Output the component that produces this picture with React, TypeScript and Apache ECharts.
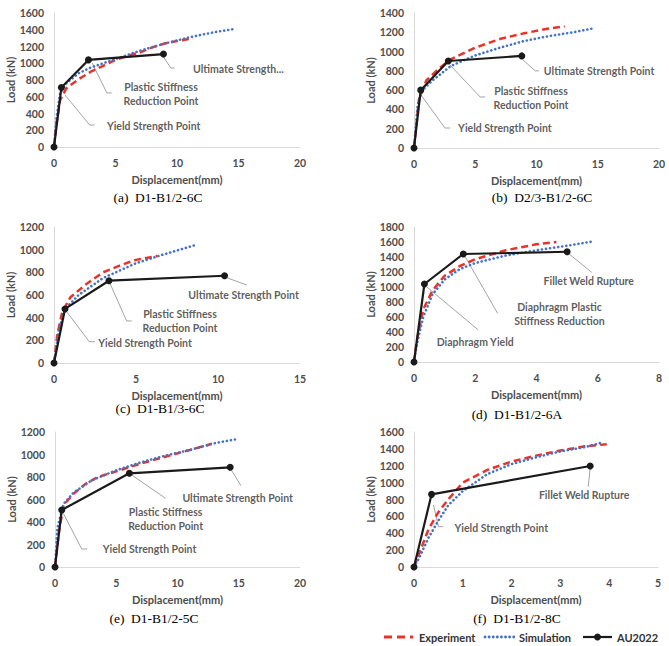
import React, { useEffect, useRef } from "react";
import * as echarts from "echarts";

// ---------- data (Displacement mm, Load kN) ----------
// (a) D1-B1/2-6C
const expA = [[0,0],[0.2,280],[0.5,560],[1,700],[2,810],[3,900],[4,970],[5,1040],[6,1090],[7,1130],[8,1190],[9,1235],[10,1265],[11.3,1300]];
const simA = [[0,0],[0.2,350],[0.5,640],[1,760],[2,880],[3,950],[4,1000],[5,1050],[7,1150],[9,1235],[11,1310],[13,1370],[14.7,1410]];
const auA = [[0,0],[0.6,710],[2.8,1040],[8.9,1110]];
// (b) D2/3-B1/2-6C
const expB = [[0,0],[0.4,500],[1,700],[2,820],[3,920],[5,1040],[7,1130],[9,1190],[11,1240],[12.3,1260]];
const simB = [[0,0],[0.3,450],[0.7,600],[1.5,700],[3,850],[5,960],[7,1040],[9,1110],[11,1160],[13,1200],[14.6,1240]];
const auB = [[0,0],[0.55,600],[2.8,902],[8.8,955]];
// (c) D1-B1/3-6C
const expC = [[0,0],[0.2,250],[0.5,450],[1,580],[2,700],[3,800],[4,860],[5,910],[6.3,945]];
const simC = [[0,0],[0.3,300],[0.7,480],[1.5,600],[3,750],[5,880],[6.5,950],[8.6,1040]];
const auC = [[0,0],[0.67,477],[3.35,726],[10.4,770]];
// (d) D1-B1/2-6A
const expD = [[0,0],[0.1,300],[0.3,700],[0.6,950],[1,1150],[1.5,1280],[2,1370],[3,1490],[4,1570],[4.65,1600]];
const simD = [[0,0],[0.1,250],[0.3,600],[0.6,900],[1,1100],[1.5,1240],[2,1320],[3,1420],[4,1490],[5,1550],[5.8,1605]];
const auD = [[0,0],[0.34,1040],[1.61,1440],[5.0,1470]];
// (e) D1-B1/2-5C
const expE = [[0,0],[0.3,300],[0.7,550],[1.5,650],[2.5,740],[3.5,800],[5,850],[7,920],[9,980],[11,1040],[12.8,1095]];
const simE = [[0,0],[0.2,350],[0.7,560],[1.5,660],[3,770],[5,860],[7,930],[9,990],[11,1040],[13,1100],[15,1140]];
const auE = [[0,0],[0.55,507],[6.07,833],[14.3,886]];
// (f) D1-B1/2-8C
const expF = [[0,0],[0.1,150],[0.3,450],[0.5,650],[0.7,800],[1,1000],[1.5,1150],[2,1250],[2.5,1320],[3,1380],[3.5,1430],[3.95,1455]];
const simF = [[0,0],[0.1,100],[0.3,350],[0.5,550],[0.7,730],[1,900],[1.5,1100],[2,1220],[2.5,1300],[3,1370],[3.5,1420],[3.85,1475]];
const auF = [[0,0],[0.36,861],[3.61,1197]];

const captions = ["(a)  D1-B1/2-6C", "(b)  D2/3-B1/2-6C", "(c)  D1-B1/3-6C", "(d)  D1-B1/2-6A", "(e)  D1-B1/2-5C", "(f)  D1-B1/2-8C"];
const xMaxes = [20, 20, 15, 8, 20, 5];
const xSteps = [5, 5, 5, 2, 5, 1];
const yMaxes = [1600, 1400, 1200, 1800, 1200, 1600];
const ySteps = [200, 200, 200, 200, 200, 200];
const seriesNames = ["Experiment", "Simulation", "AU2022"];

// annotations (data coordinates): leader polyline and text anchor
const annA = [
  { text: "Yield Strength Point", leader: [[0.9,620],[2.9,263],[3.3,263]], at: [4.3,250], align: "left" },
  { text: "Plastic Stiffness\nReduction Point", leader: [[3.1,1003],[4.3,645],[4.7,645]], at: [8.7,633], align: "center" },
  { text: "Ultimate Strength...", leader: [[8.9,1075],[9.5,943],[9.8,943]], at: [11.3,931], align: "left" },
];
const annB = [
  { text: "Yield Strength Point", leader: [[0.57,550],[2.53,207],[2.94,207]], at: [3.6,207], align: "left" },
  { text: "Plastic Stiffness\nReduction Point", leader: [[2.94,861],[5.4,529],[5.8,529]], at: [9.55,519], align: "center" },
  { text: "Ultimate Strength Point", leader: [[8.9,913],[9.9,800],[10.2,800]], at: [10.6,800], align: "left" },
];
const annC = [
  { text: "Yield Strength Point", leader: [[0.77,453],[2.15,188],[2.5,188]], at: [2.7,179], align: "left" },
  { text: "Plastic Stiffness\nReduction Point", leader: [[3.41,703],[4.43,371],[4.74,371]], at: [7.68,370], align: "center" },
  { text: "Ultimate Strength Point", leader: [[10.53,753],[11.75,688]], at: [8.19,600], align: "left" },
];
const annD = [
  { text: "Diaphragm Yield", leader: [[0.41,1004],[2.1,427]], at: [0.74,271], align: "left" },
  { text: "Diaphragm Plastic\nStiffness Reduction", leader: [[1.67,1404],[2.73,649]], at: [4.75,643], align: "center" },
  { text: "Fillet Weld Rupture", leader: [[5.04,1449],[5.8,1196]], at: [4.23,1080], align: "left" },
];
const annE = [
  { text: "Yield Strength Point", leader: [[0.68,477],[2.18,160],[2.64,160]], at: [3.9,157], align: "left" },
  { text: "Plastic Stiffness\nReduction Point", leader: [[6.26,818],[9.03,610]], at: [9.03,430], align: "center" },
  { text: "Ultimate Strength Point", leader: [[14.4,862],[15.18,723]], at: [10.4,616], align: "left" },
];
const annF = [
  { text: "Yield Strength Point", leader: [[0.4,735],[0.5,478],[0.6,478]], at: [0.83,458], align: "left" },
  { text: "Fillet Weld Rupture", leader: [[3.61,1170],[3.57,951]], at: [2.56,853], align: "left" },
];

const expAll = [expA, expB, expC, expD, expE, expF];
const simAll = [simA, simB, simC, simD, simE, simF];
const auAll = [auA, auB, auC, auD, auE, auF];
const annAll = [annA, annB, annC, annD, annE, annF];

// ---------- layout ----------
const grids = [
  { left: 54, top: 13, width: 246, height: 134 },
  { left: 414, top: 13, width: 245, height: 135 },
  { left: 54, top: 227, width: 246, height: 136 },
  { left: 414, top: 227, width: 245, height: 135 },
  { left: 55, top: 432, width: 245, height: 135 },
  { left: 414, top: 432, width: 244, height: 135 },
];
const captionPos = [[158, 197], [542, 197], [160, 408], [517, 414], [154, 618], [517, 618]];

const FONT = "Lato, 'Open Sans', sans-serif";
const RED = "#e8332b";
const BLUE = "#4472c4";
const BLACK = "#1a1a1a";
const TICK = "#4d4d4d";

export default function App() {
  const ref = useRef<HTMLDivElement>(null);
  useEffect(() => {
    if (!ref.current) return;
    const chart = echarts.init(ref.current, undefined, { renderer: "svg" });
    const xAxis: any[] = [];
    const yAxis: any[] = [];
    const series: any[] = [];
    const axisLine = { show: true, lineStyle: { color: "#d9d9d9", width: 1 } };
    for (let i = 0; i < 6; i++) {
      xAxis.push({
        type: "value", gridIndex: i, min: 0, max: xMaxes[i], interval: xSteps[i],
        axisLine, axisTick: { show: false }, splitLine: { show: false },
        axisLabel: { color: TICK, fontWeight: "bold", fontSize: 10.5, fontFamily: FONT, margin: 10, formatter: (v: number) => String(v) },
        name: "Displacement(mm)", nameLocation: "middle", nameGap: 27,
        nameTextStyle: { color: TICK, fontWeight: "bold", fontSize: 11, fontFamily: FONT },
      });
      yAxis.push({
        type: "value", gridIndex: i, min: 0, max: yMaxes[i], interval: ySteps[i],
        axisLine, axisTick: { show: false }, splitLine: { show: false },
        axisLabel: { color: TICK, fontWeight: "bold", fontSize: 10.5, fontFamily: FONT, margin: 10, formatter: (v: number) => String(v) },
        name: "Load (kN)", nameLocation: "middle", nameGap: 36,
        nameTextStyle: { color: TICK, fontWeight: "bold", fontSize: 11, fontFamily: FONT },
      });
      series.push({
        type: "lines", coordinateSystem: "cartesian2d", xAxisIndex: i, yAxisIndex: i,
        polyline: true, silent: true, z: 1,
        lineStyle: { color: "#8c8c8c", width: 0.8, opacity: 1 },
        data: annAll[i].map((a) => ({ coords: a.leader })),
      });
      series.push({
        type: "line", name: seriesNames[0], xAxisIndex: i, yAxisIndex: i, data: expAll[i],
        symbol: "none", z: 2,
        lineStyle: { color: RED, width: 2.5, type: [7, 4] }, itemStyle: { color: RED },
      });
      series.push({
        type: "line", name: seriesNames[1], xAxisIndex: i, yAxisIndex: i, data: simAll[i],
        symbol: "none", z: 3,
        lineStyle: { color: BLUE, width: 2.6, type: [0.1, 4], cap: "round" }, itemStyle: { color: BLUE },
      });
      series.push({
        type: "line", name: seriesNames[2], xAxisIndex: i, yAxisIndex: i, data: auAll[i],
        symbol: "circle", symbolSize: 7, showAllSymbol: true, z: 4,
        lineStyle: { color: BLACK, width: 2.2 }, itemStyle: { color: BLACK },
      });
      series.push({
        type: "scatter", xAxisIndex: i, yAxisIndex: i, symbolSize: 1, silent: true, z: 5,
        itemStyle: { color: "transparent" },
        data: annAll[i].map((a) => ({
          value: a.at,
          label: {
            show: true, position: "inside", align: a.align, verticalAlign: "middle",
            formatter: a.text, color: "#333333", fontWeight: "bold", fontSize: 10.5,
            fontFamily: FONT, lineHeight: 14,
          },
        })),
      });
    }
    const graphic: any[] = captions.map((c, i) => ({
      type: "text", x: captionPos[i][0], y: captionPos[i][1],
      style: {
        text: c, align: "center", verticalAlign: "middle",
        font: "13.5px 'Liberation Serif', 'Times New Roman', serif", fill: "#000",
      },
    }));
    // hand-drawn legend row at the bottom
    const ly = 637;
    const legendItems = [
      { x: 384, dash: [8, 5], color: RED, width: 2.8, cap: "butt", dot: false, textX: 419 },
      { x: 485, dash: [0.1, 4], color: BLUE, width: 2.8, cap: "round", dot: false, textX: 519 },
      { x: 583, dash: null, color: BLACK, width: 2.2, cap: "butt", dot: true, textX: 617 },
    ];
    legendItems.forEach((it, k) => {
      graphic.push({
        type: "line", shape: { x1: it.x, y1: ly, x2: it.x + 29, y2: ly },
        style: { stroke: it.color, lineWidth: it.width, lineDash: it.dash, lineCap: it.cap },
      });
      if (it.dot) {
        graphic.push({ type: "circle", shape: { cx: it.x + 14.5, cy: ly, r: 3.5 }, style: { fill: it.color } });
      }
      graphic.push({
        type: "text", x: it.textX, y: ly,
        style: {
          text: seriesNames[k], align: "left", verticalAlign: "middle",
          font: `bold 11px ${FONT}`, fill: "#333333",
        },
      });
    });
    chart.setOption({
      animation: false,
      backgroundColor: "#fff",
      grid: grids.map((g) => ({ ...g, containLabel: false })),
      xAxis, yAxis, series, graphic,
    });
    return () => chart.dispose();
  }, []);
  return <div ref={ref} style={{ position: "fixed", left: 0, top: 0, width: 669, height: 646 }} />;
}
